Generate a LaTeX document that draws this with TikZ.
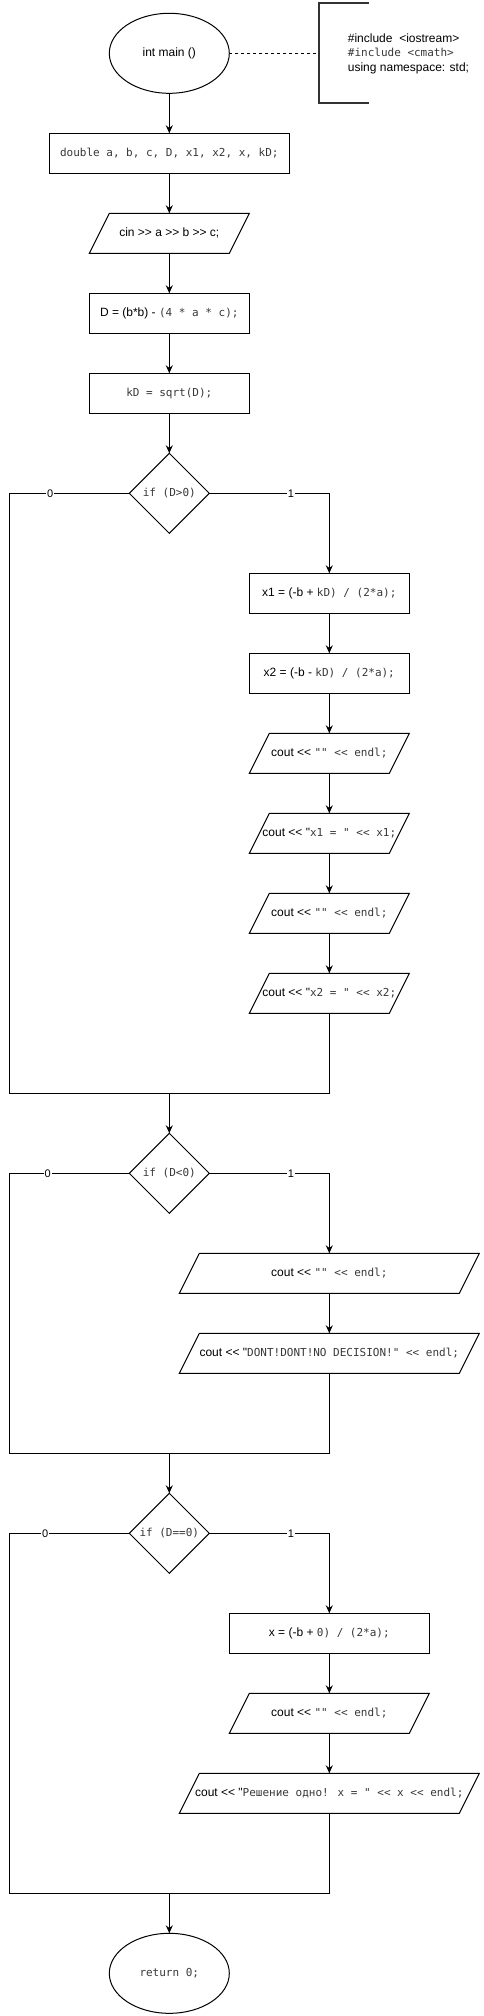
\documentclass[tikz,border=0pt]{standalone}
\usepackage{fontspec}
\usetikzlibrary{arrows.meta,shapes.geometric}
\newfontfamily\sansfont{Liberation Sans}
\newfontfamily\codefont{DejaVu Sans Mono}
\definecolor{cLine}{HTML}{000000}
\definecolor{cNote}{HTML}{333333}
\definecolor{cCode}{HTML}{383838}
\tikzset{
  base/.style={draw=cLine,line width=1pt,inner sep=0pt,outer sep=0pt,
              font=\sansfont\fontsize{12}{14}\selectfont,align=center},
  term/.style={base,ellipse,minimum width=120pt,minimum height=80pt},
  box/.style={base,rectangle,minimum width=#1,minimum height=40pt},
  box/.default=160pt,
  io/.style={base,draw=none,rectangle,minimum width=#1,minimum height=40pt},
  io/.default=160pt,
  cond/.style={base,diamond,aspect=1,minimum width=80pt,minimum height=80pt},
  flow/.style={line width=1pt,cLine},
  flowarrow/.style={flow,-{Stealth[length=8pt,width=7pt]}},
  lbl/.style={fill=white,inner sep=1pt,font=\sansfont\fontsize{11}{13}\selectfont},
}
\newcommand{\cf}[1]{{\codefont\fontsize{11}{14}\selectfont\color{cCode}#1}}
\newcommand{\ioframe}[1]{\draw[flow]
  ([xshift=20pt]#1.north west) -- (#1.north east)
  -- ([xshift=-20pt]#1.south east) -- (#1.south west) -- cycle;}

\begin{document}
\begin{tikzpicture}[x=1pt,y=-1pt]
  \useasboundingbox (0,0) rectangle (483,2016);
  \node[term](start) at (169.3,53.3){int main ()};
  \node[anchor=west,align=left,inner sep=0pt,
        font=\sansfont\fontsize{12}{14.5}\selectfont](incl) at (347.7,53.5)
        {\#include\ \ <iostream>\\\cf{\#include <cmath>}\\using namespace: std;};
  \coordinate (brk) at (319.3,53.3);
  \draw[cNote,line width=2pt] (369.3,3.3) -| (319.3,103.3) -- (369.3,103.3);
  \draw[flow,dash pattern=on 3pt off 3pt](start.east)--(brk);

  \node[box=240pt](decl) at (169.3,153.3){\cf{double a, b, c, D, x1, x2, x, kD;}};
  \node[io](input) at (169.3,233.3){cin >> a >> b >> c;};
  \node[box](disc) at (169.3,313.3){D = (b*b) - \cf{(4 * a * c);}};
  \node[box](root) at (169.3,393.3){\cf{kD = sqrt(D);}};
  \node[cond](ifpos) at (169.3,493.3){\cf{if (D>0)}};
  \node[box](xone) at (329.3,593.3){x1 = (-b + \cf{kD) / (2*a);}};
  \node[box](xtwo) at (329.3,673.3){x2 = (-b - \cf{kD) / (2*a);}};
  \node[io](outa) at (329.3,753.3){cout << \cf{"" << endl;}};
  \node[io](outb) at (329.3,833.3){cout << "\cf{x1 = " << x1;}};
  \node[io](outc) at (329.3,913.3){cout << \cf{"" << endl;}};
  \node[io](outd) at (329.3,993.3){cout << "\cf{x2 = " << x2;}};
  \node[cond](ifneg) at (169.3,1173.3){\cf{if (D<0)}};
  \node[io=300pt](oute) at (329.3,1273.3){cout << \cf{"" << endl;}};
  \node[io=300pt](outf) at (329.3,1353.3){cout << "\cf{DONT!DONT!NO DECISION!" << endl;}};
  \node[cond](ifzero) at (169.3,1533.3){\cf{if (D==0)}};
  \node[box=200pt](xsol) at (329.3,1633.3){x = (-b + \cf{0) / (2*a);}};
  \node[io=200pt](outg) at (329.3,1713.3){cout << \cf{"" << endl;}};
  \node[io=300pt](outh) at (329.3,1793.3){cout << "\cf{Решение одно! x = " << x << endl;}};
  \node[term](stop) at (169.3,1973.3){\cf{return 0;}};

  \ioframe{input}
  \ioframe{outa}
  \ioframe{outb}
  \ioframe{outc}
  \ioframe{outd}
  \ioframe{oute}
  \ioframe{outf}
  \ioframe{outg}
  \ioframe{outh}

  % joins of the branches
  \coordinate (jpos) at (9.3,1093.3);
  \coordinate (mpos) at (169.3,1093.3);
  \coordinate (jneg) at (9.3,1453.3);
  \coordinate (mneg) at (169.3,1453.3);
  \coordinate (jzero) at (9.3,1893.3);
  \coordinate (mzero) at (169.3,1893.3);

  \draw[flowarrow](start)--(decl);
  \draw[flowarrow](decl)--(input);
  \draw[flowarrow](input)--(disc);
  \draw[flowarrow](disc)--(root);
  \draw[flowarrow](root)--(ifpos);
  \draw[flowarrow](ifpos.east) -| node[lbl,pos=.34]{1} (xone.north);
  \draw[flowarrow](xone)--(xtwo);
  \draw[flowarrow](xtwo)--(outa);
  \draw[flowarrow](outa)--(outb);
  \draw[flowarrow](outb)--(outc);
  \draw[flowarrow](outc)--(outd);
  \draw[flow](ifpos.west) -| node[lbl,pos=.33]{0} (jpos) -- (mpos);
  \draw[flow](outd.south) |- (mpos);
  \draw[flowarrow](mpos)--(ifneg);

  \draw[flowarrow](ifneg.east) -| node[lbl,pos=.34]{1} (oute.north);
  \draw[flowarrow](oute)--(outf);
  \draw[flow](ifneg.west) -| node[lbl,pos=.34]{0} (jneg) -- (mneg);
  \draw[flow](outf.south) |- (mneg);
  \draw[flowarrow](mneg)--(ifzero);

  \draw[flowarrow](ifzero.east) -| node[lbl,pos=.34]{1} (xsol.north);
  \draw[flowarrow](xsol)--(outg);
  \draw[flowarrow](outg)--(outh);
  \draw[flow](ifzero.west) -| node[lbl,pos=.35]{0} (jzero) -- (mzero);
  \draw[flow](outh.south) |- (mzero);
  \draw[flowarrow](mzero)--(stop);
\end{tikzpicture}
\end{document}
